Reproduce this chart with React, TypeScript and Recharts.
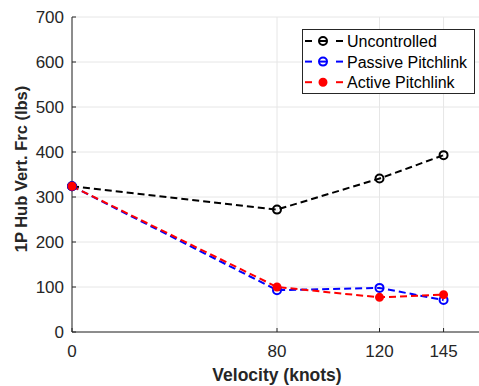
import { LineChart, Line, XAxis, YAxis, CartesianGrid } from "recharts";

const velocity = [0, 80, 120, 145];
const uncontrolled = [324, 272, 341, 393];
const passive = [324, 93, 98, 71];
const active = [324, 100, 77, 83];
const xTicks = [0, 80, 120, 145];
const yTicks = [0, 100, 200, 300, 400, 500, 600, 700];

const data = velocity.map((v, i) => ({
  v,
  unc: uncontrolled[i],
  pas: passive[i],
  act: active[i],
}));

const font = "'Liberation Sans', Arial, sans-serif";
const axisColor = "#262626";

const series = [
  { key: "unc", label: "Uncontrolled", color: "#000000", filled: false },
  { key: "pas", label: "Passive Pitchlink", color: "#0000ff", filled: false },
  { key: "act", label: "Active Pitchlink", color: "#ff0000", filled: true },
];

function XTick({ x, y, payload }: any) {
  return (
    <g>
      <line x1={x} x2={x} y1={y - 8} y2={y - 12} stroke={axisColor} strokeWidth={1} />
      <text x={x} y={y + 17} textAnchor="middle" fontSize={17} fill={axisColor} fontFamily={font}>
        {payload.value}
      </text>
    </g>
  );
}

function YTick({ x, y, payload }: any) {
  return (
    <g>
      <line x1={x + 8} x2={x + 12} y1={y} y2={y} stroke={axisColor} strokeWidth={1} />
      <text x={x} y={y + 6} textAnchor="end" fontSize={17} fill={axisColor} fontFamily={font}>
        {payload.value}
      </text>
    </g>
  );
}

function YTitle() {
  return (
    <text
      x={27}
      y={169}
      transform="rotate(-90 27 169)"
      textAnchor="middle"
      fontSize={16.5}
      fontWeight={700}
      fill={axisColor}
      fontFamily={font}
    >
      1P Hub Vert. Frc (lbs)
    </text>
  );
}

// legend sample: dash, marker, dash (hollow markers show the line through them)
function LegendBox() {
  return (
    <svg
      width={173}
      height={66}
      style={{ position: "absolute", left: 302, top: 29, display: "block" }}
    >
      <rect x={0.5} y={0.5} width={172} height={64} fill="#fff" stroke="#262626" strokeWidth={1} />
      {series.map((s, i) => {
        const cy = 12 + i * 20.6;
        return (
          <g key={s.key}>
            <line x1={3} x2={10} y1={cy} y2={cy} stroke={s.color} strokeWidth={2} />
            <line x1={34} x2={41} y1={cy} y2={cy} stroke={s.color} strokeWidth={2} />
            {!s.filled && (
              <line x1={18} x2={24} y1={cy} y2={cy} stroke={s.color} strokeWidth={2} />
            )}
            <circle
              cx={21}
              cy={cy}
              r={s.filled ? 3.5 : 4}
              fill={s.filled ? s.color : "none"}
              stroke={s.color}
              strokeWidth={2}
            />
            <text x={45} y={cy + 6} fontSize={16} fill="#000" fontFamily={font}>
              {s.label}
            </text>
          </g>
        );
      })}
    </svg>
  );
}

export default function App() {
  return (
    <div
      style={{
        position: "absolute",
        left: 0,
        top: 0,
        width: 479,
        height: 386,
        overflow: "hidden",
        background: "#fff",
      }}
    >
      <LineChart
        width={482}
        height={386}
        data={data}
        margin={{ top: 17, right: 0, bottom: 0, left: 0 }}
      >
        <CartesianGrid stroke="#e6e6e6" strokeWidth={1} />
        <XAxis
          dataKey="v"
          type="number"
          domain={[0, 160]}
          ticks={xTicks}
          stroke={axisColor}
          tickLine={false}
          tick={<XTick />}
          height={54}
          label={{
            value: "Velocity (knots)",
            position: "insideBottom",
            offset: 5,
            fontSize: 17.5,
            fontWeight: 700,
            fill: axisColor,
            fontFamily: font,
          }}
        />
        <YAxis
          type="number"
          domain={[0, 700]}
          ticks={yTicks}
          width={72}
          stroke={axisColor}
          tickLine={false}
          tick={<YTick />}
          label={<YTitle />}
        />
        {series.map((s) => (
          <Line
            key={s.key}
            dataKey={s.key}
            name={s.label}
            type="linear"
            stroke={s.color}
            strokeWidth={2}
            strokeDasharray="7 4"
            dot={{
              r: s.filled ? 3.5 : 4,
              fill: s.filled ? s.color : "#fff",
              fillOpacity: s.filled ? 1 : 0,
              stroke: s.color,
              strokeWidth: 2,
              strokeDasharray: "0",
            }}
            isAnimationActive={false}
          />
        ))}
      </LineChart>
      <LegendBox />
    </div>
  );
}
